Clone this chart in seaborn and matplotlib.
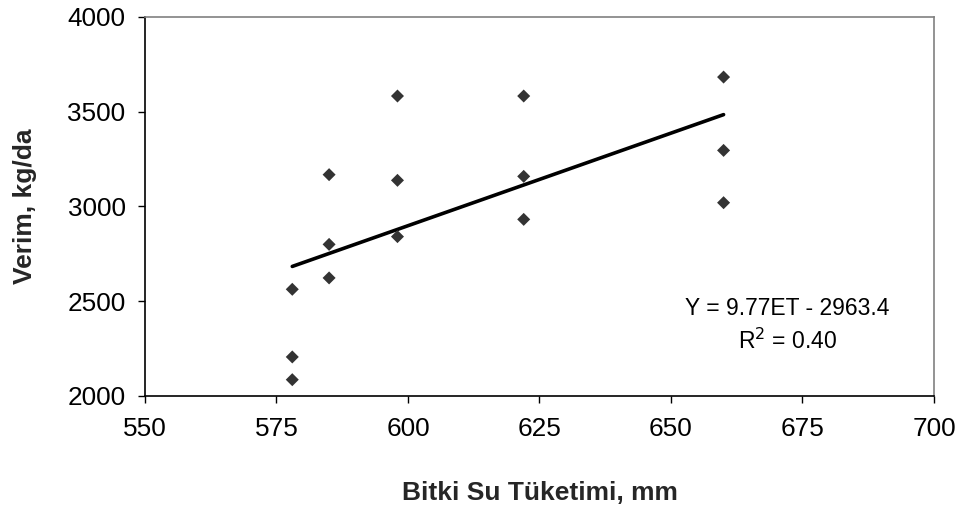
import numpy as np
import pandas as pd
import matplotlib
matplotlib.use("Agg")
import matplotlib.pyplot as plt
import seaborn as sns

# Crop water use (ET, mm) and yield (kg/da) observations
et_mm = [578, 578, 578, 585, 585, 585, 598, 598, 598, 622, 622, 622, 660, 660, 660]
yield_kgda = [2563, 2206, 2086, 3168, 2800, 2623, 3583, 3138, 2841, 3583, 3159, 2932, 3683, 3296, 3020]

# Fitted linear relationship
slope = 9.77
intercept = -2963.4
r_squared = 0.40

x_ticks = [550, 575, 600, 625, 650, 675, 700]
y_ticks = [2000, 2500, 3000, 3500, 4000]

sns.set_theme(style="white")
plt.rcParams["font.family"] = ["Liberation Sans", "DejaVu Sans"]

df = pd.DataFrame({"ET": et_mm, "Verim": yield_kgda})

fig = plt.figure(figsize=(9.59, 5.12), dpi=100)
ax = fig.add_axes([0.1512, 0.2266, 0.9739 - 0.1512, 0.9668 - 0.2266])

sns.scatterplot(data=df, x="ET", y="Verim", ax=ax, marker="D", s=44,
                color="#333333", edgecolor="none", zorder=3)

fit_x = np.array([min(et_mm), max(et_mm)])
fit_df = pd.DataFrame({"ET": fit_x, "Verim": slope * fit_x + intercept})
sns.lineplot(data=fit_df, x="ET", y="Verim", ax=ax, color="black", linewidth=2.6, zorder=2)

ax.set_xlim(550, 700)
ax.set_ylim(2000, 4000)
ax.set_xticks(x_ticks)
ax.set_yticks(y_ticks)
ax.tick_params(axis="both", direction="out", length=5, width=1, color="black",
               labelsize=18.8, labelcolor="black")
ax.tick_params(axis="y", pad=9)
ax.tick_params(axis="x", pad=10)
ax.xaxis.set_ticks_position("bottom")
ax.yaxis.set_ticks_position("left")

for side in ("left", "bottom"):
    ax.spines[side].set_color("black")
    ax.spines[side].set_linewidth(1.2)
for side in ("top", "right"):
    ax.spines[side].set_color("#808080")
    ax.spines[side].set_linewidth(1.2)

ax.set_xlabel("Bitki Su Tüketimi, mm", fontsize=19, fontweight="bold", labelpad=29)
ax.set_ylabel("Verim, kg/da", fontsize=19, fontweight="bold", labelpad=22)

sign = "-" if intercept < 0 else "+"
ax.text(0.814, 0.23, f"Y = {slope:.2f}ET {sign} {abs(intercept):.1f}",
        transform=ax.transAxes, ha="center", va="center", fontsize=16.5, color="black")
ax.text(0.814, 0.143, f"R$^2$ = {r_squared:.2f}",
        transform=ax.transAxes, ha="center", va="center", fontsize=16.5, color="black")

fig.savefig("out.png", dpi=100, facecolor="white")
